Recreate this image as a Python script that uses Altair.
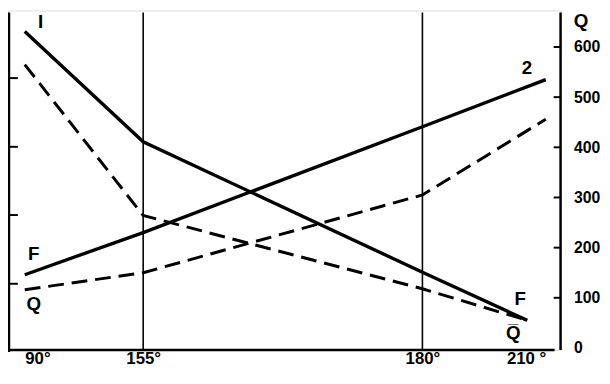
import altair as alt
import pandas as pd

# curve 1 (descending): F solid, Q dashed
deg_1 = [90, 155, 180, 205.5]
F_1 = [631, 411, 151, 55]
Q_1 = [565, 264, 118, 55]
# curve 2 (ascending): F solid, Q dashed
deg_2 = [90, 155, 180, 210]
F_2 = [146, 230, 441, 535]
Q_2 = [116, 150, 305, 456]

x_ticks = [90, 155, 180, 210]
x_labels = ["90°", "155°", "180°", "210 °"]
q_labels = [0, 100, 200, 300, 400, 500, 600]
q_ticks = [100, 200, 300, 400, 500, 600]
left_ticks = [128, 265, 401, 538]
guides = [155, 180]

ann_text = ["I", "2", "Q", "F", "Q", "F", "Q\u0305"]
ann_deg = [98.7, 205.4, 218.6, 94.9, 94.9, 203.8, 202.1]
ann_q = [649, 557, 651, 187, 87, 98, 30]

FONT = "Liberation Sans Narrow, Liberation Sans, Arial, sans-serif"

rows = []
for d, f, q in zip(deg_1, F_1, Q_1):
    rows.append({"curve": "1", "kind": "F", "deg": d, "q": f})
    rows.append({"curve": "1", "kind": "Q", "deg": d, "q": q})
for d, f, q in zip(deg_2, F_2, Q_2):
    rows.append({"curve": "2", "kind": "F", "deg": d, "q": f})
    rows.append({"curve": "2", "kind": "Q", "deg": d, "q": q})
lines = pd.DataFrame(rows)

label_expr = " : ".join(
    f"datum.value == {v} ? '{t}'" for v, t in zip(x_ticks, x_labels)
) + " : ''"

xscale = alt.Scale(domain=x_ticks, range=[17, 137, 420, 545], nice=False, zero=False)
yscale = alt.Scale(domain=[-3.9, 672.8], nice=False, zero=False)

X = alt.X("deg:Q", scale=xscale, title=None,
          axis=alt.Axis(values=x_ticks, labelExpr=label_expr, ticks=False, domain=False,
                        grid=False, labelFont=FONT, labelFontSize=17, labelFontWeight="bold",
                        labelColor="black", labelPadding=1))
Y = alt.Y("q:Q", scale=yscale, title=None,
          axis=alt.Axis(orient="right", values=q_labels, ticks=False, domain=False, grid=False,
                        labelFont=FONT, labelFontSize=16, labelFontWeight="bold",
                        labelColor="black", labelPadding=13))

solid = alt.Chart(lines).transform_filter(alt.datum.kind == "F").mark_line(
    color="black", strokeWidth=3.4
).encode(x=X, y=Y, detail="curve:N")

dashed = alt.Chart(lines).transform_filter(alt.datum.kind == "Q").mark_line(
    color="black", strokeWidth=3, strokeDash=[16, 8]
).encode(x=X, y=Y, detail="curve:N")

guide_df = pd.DataFrame({"deg": guides})
guide_rules = alt.Chart(guide_df).mark_rule(color="black", strokeWidth=1.6).encode(
    x=X, y=alt.value(2), y2=alt.value(344))

left_axis = alt.Chart(guide_df.head(1)).mark_rule(color="black", strokeWidth=2.5).encode(
    x=alt.value(1), y=alt.value(2), y2=alt.value(346))
bottom_axis = alt.Chart(guide_df.head(1)).mark_rule(color="black", strokeWidth=2.5).encode(
    x=alt.value(0), x2=alt.value(554), y=alt.value(344))
right_axis = alt.Chart(guide_df.head(1)).mark_rule(color="black", strokeWidth=2.5).encode(
    x=alt.value(560), y=alt.value(2), y2=alt.value(344))

rt_df = pd.DataFrame({"q": q_ticks})
right_ticks = alt.Chart(rt_df).mark_rule(color="black", strokeWidth=2).encode(
    x=alt.value(553), x2=alt.value(560), y=Y)

lt_df = pd.DataFrame({"q": left_ticks})
left_tick_marks = alt.Chart(lt_df).mark_rule(color="black", strokeWidth=2).encode(
    x=alt.value(1), x2=alt.value(10), y=Y)

ann_df = pd.DataFrame({"t": ann_text, "deg": ann_deg, "q": ann_q})
ann = alt.Chart(ann_df).mark_text(
    font=FONT, fontSize=19, fontWeight="bold", color="black", align="center", baseline="middle"
).encode(x=X, y=Y, text="t:N")

chart = alt.layer(
    guide_rules, left_axis, bottom_axis, right_axis, right_ticks, left_tick_marks,
    solid, dashed, ann
).properties(
    width=560, height=344,
    autosize=alt.AutoSizeParams(type="none"),
    padding={"left": 0, "top": 0, "right": 42, "bottom": 30},
).configure_view(stroke=None).configure(background="white")

chart.save("out.html", embed_options={"renderer": "svg", "actions": False})
